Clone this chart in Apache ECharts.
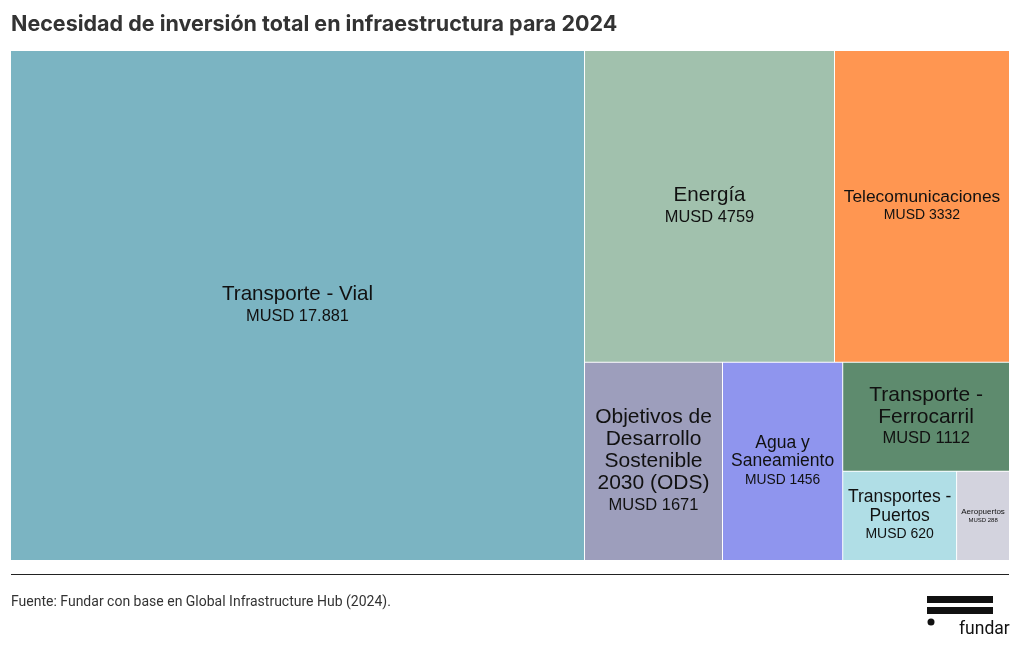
<!DOCTYPE html>
<html><head><meta charset="utf-8">
<script src="https://cdn.jsdelivr.net/npm/echarts@6/dist/echarts.min.js"></script>
<style>html,body{margin:0;padding:0;background:#fff}#c{width:1020px;height:650px}</style>
</head><body><div id="c"></div>
<script>
const categories = ["Transporte - Vial","Energía","Telecomunicaciones","Objetivos de Desarrollo Sostenible 2030 (ODS)","Agua y Saneamiento","Transporte - Ferrocarril","Transportes - Puertos","Aeropuertos"];
const values = [17881, 4759, 3332, 1671, 1456, 1112, 620, 288];
const valueLabels = ["17.881","4759","3332","1671","1456","1112","620","288"];

// styling (display only)
const colors = ["#7bb4c2","#a1c1ad","#ff9651","#9d9ebc","#8f95ee","#5e8b6e","#b0dee6","#d3d3de"];
const wrapped = ["Transporte - Vial","Energía","Telecomunicaciones","Objetivos de\nDesarrollo\nSostenible\n2030 (ODS)","Agua y\nSaneamiento","Transporte -\nFerrocarril","Transportes -\nPuertos","Aeropuertos"];
const fontSizes = [[20.6,16.4],[20.6,16.4],[17.4,14],[21,16.5],[17.5,13.8],[21,16.5],[17.5,14],[8,6]];

const chart = echarts.init(document.getElementById('c'));
const FONT = "'Liberation Sans', Arial, sans-serif";
const data = categories.map((n,i)=>{
  const lh = fontSizes[i][0]*1.05;
  const lines = wrapped[i].split('\n');
  return {
  name: n, value: values[i],
  itemStyle: {color: colors[i]},
  label: {
    offset: [0, -((lines.length + 1) * lh) / 2],
    formatter: () => lines.map(s=>'{n|'+s+'}').join('\n') + '\n{v|MUSD ' + valueLabels[i] + '}',
    rich: {
      n: {fontSize: fontSizes[i][0], lineHeight: lh, color:'#111', fontFamily: FONT, align:'center'},
      v: {fontSize: fontSizes[i][1], lineHeight: lh, color:'#111', fontFamily: FONT, align:'center'}
    }
  }};
});
chart.setOption({
  animation: false,
  title: {text: 'Necesidad de inversión total en infraestructura para 2024', left: 6, top: 9,
    textStyle: {fontFamily: "Inter, 'Liberation Sans', sans-serif", fontWeight: 'bold', fontSize: 21.5, color: '#333'}},
  series: [{
    type: 'treemap',
    left: 11, right: 11, top: 51, bottom: 90,
    roam: false, nodeClick: false,
    squareRatio: 1,
    breadcrumb: {show: false},
    itemStyle: {borderColor: '#fff', borderWidth: 0, gapWidth: 1},
    label: {show: true, position: ['50%','50%'], align: 'center', verticalAlign: 'top', overflow: 'none', padding: 0},
    upperLabel: {show: false},
    levels: [{itemStyle: {borderWidth: 0, gapWidth: 1, borderColor:'#fff'}}],
    data: data
  }],
  graphic: [
    {type: 'line', shape: {x1: 11, y1: 574.5, x2: 1009, y2: 574.5}, style: {stroke: '#222', lineWidth: 1}},
    {type: 'text', left: 11, top: 595, style: {text: 'Fuente: Fundar con base en Global Infrastructure Hub (2024).', font: "14px Roboto, 'Liberation Sans', sans-serif", fill: '#333'}},
    {type: 'rect', shape: {x: 927, y: 596, width: 66, height: 7}, style: {fill: '#111'}},
    {type: 'rect', shape: {x: 927, y: 607, width: 66, height: 7}, style: {fill: '#111'}},
    {type: 'circle', shape: {cx: 931, cy: 622, r: 3.5}, style: {fill: '#111'}},
    {type: 'text', left: 959, top: 621, style: {text: 'fundar', font: "17.5px Roboto, 'Liberation Sans', sans-serif", fill: '#111'}}
  ]
});
</script></body></html>
